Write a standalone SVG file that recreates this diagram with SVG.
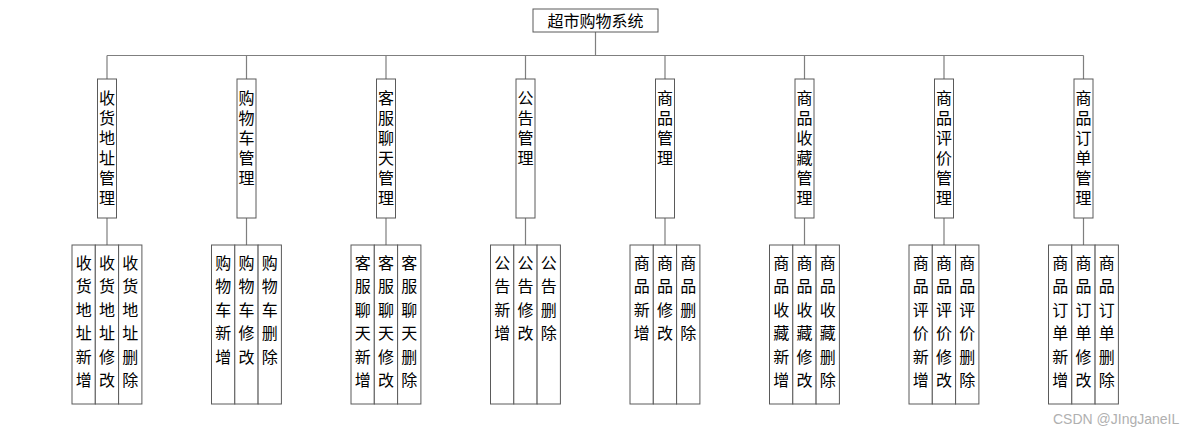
<svg xmlns="http://www.w3.org/2000/svg" width="1200" height="437" viewBox="0 0 1200 437">
<style>
.b{fill:#fff;stroke:#5a5a5a;stroke-width:1}
.t{font-family:"Noto Sans CJK SC","Liberation Sans",sans-serif;font-size:16px;fill:#000;text-anchor:middle}
.c{fill:none;stroke:#7f7f7f;stroke-width:1.2}
.w{font-family:"Liberation Sans",sans-serif;font-size:14px;fill:#b0b0b0}
</style>
<rect width="1200" height="437" fill="#fff"/>
<g id="connectors" class="c">
<path d="M595.5 32V55.5M107 55.5H1083.5"/>
<path d="M107 55.5V79M246.5 55.5V79M386 55.5V79M525.5 55.5V79M665 55.5V79M804.5 55.5V79M944 55.5V79M1083.5 55.5V79"/>
<path d="M107 218V245M246.5 218V245M386 218V245M525.5 218V245M665 218V245M804.5 218V245M944 218V245M1083.5 218V245"/>
</g>
<g id="root"><rect class="b" x="533" y="9" width="125" height="23"/><text class="t" x="595.5" y="27">超市购物系统</text></g>

<g id="n1"><rect class="b" x="97.5" y="79" width="19" height="139"/><text class="t" x="107" y="104"><tspan x="107">收</tspan><tspan x="107" dy="20">货</tspan><tspan x="107" dy="20">地</tspan><tspan x="107" dy="20">址</tspan><tspan x="107" dy="20">管</tspan><tspan x="107" dy="20">理</tspan></text></g>
<g id="n2"><rect class="b" x="237" y="79" width="19" height="139"/><text class="t" x="246.5" y="104"><tspan x="246.5">购</tspan><tspan x="246.5" dy="20">物</tspan><tspan x="246.5" dy="20">车</tspan><tspan x="246.5" dy="20">管</tspan><tspan x="246.5" dy="20">理</tspan></text></g>
<g id="n3"><rect class="b" x="376.5" y="79" width="19" height="139"/><text class="t" x="386" y="104"><tspan x="386">客</tspan><tspan x="386" dy="20">服</tspan><tspan x="386" dy="20">聊</tspan><tspan x="386" dy="20">天</tspan><tspan x="386" dy="20">管</tspan><tspan x="386" dy="20">理</tspan></text></g>
<g id="n4"><rect class="b" x="516" y="79" width="19" height="139"/><text class="t" x="525.5" y="104"><tspan x="525.5">公</tspan><tspan x="525.5" dy="20">告</tspan><tspan x="525.5" dy="20">管</tspan><tspan x="525.5" dy="20">理</tspan></text></g>
<g id="n5"><rect class="b" x="655.5" y="79" width="19" height="139"/><text class="t" x="665" y="104"><tspan x="665">商</tspan><tspan x="665" dy="20">品</tspan><tspan x="665" dy="20">管</tspan><tspan x="665" dy="20">理</tspan></text></g>
<g id="n6"><rect class="b" x="795" y="79" width="19" height="139"/><text class="t" x="804.5" y="104"><tspan x="804.5">商</tspan><tspan x="804.5" dy="20">品</tspan><tspan x="804.5" dy="20">收</tspan><tspan x="804.5" dy="20">藏</tspan><tspan x="804.5" dy="20">管</tspan><tspan x="804.5" dy="20">理</tspan></text></g>
<g id="n7"><rect class="b" x="934.5" y="79" width="19" height="139"/><text class="t" x="944" y="104"><tspan x="944">商</tspan><tspan x="944" dy="20">品</tspan><tspan x="944" dy="20">评</tspan><tspan x="944" dy="20">价</tspan><tspan x="944" dy="20">管</tspan><tspan x="944" dy="20">理</tspan></text></g>
<g id="n8"><rect class="b" x="1074" y="79" width="19" height="139"/><text class="t" x="1083.5" y="104"><tspan x="1083.5">商</tspan><tspan x="1083.5" dy="20">品</tspan><tspan x="1083.5" dy="20">订</tspan><tspan x="1083.5" dy="20">单</tspan><tspan x="1083.5" dy="20">管</tspan><tspan x="1083.5" dy="20">理</tspan></text></g>

<g id="c1">
<rect class="b" x="72" y="245" width="23.3" height="159"/><rect class="b" x="95.3" y="245" width="23.3" height="159"/><rect class="b" x="118.6" y="245" width="23.3" height="159"/>
<text class="t" y="269"><tspan x="83.7">收</tspan><tspan x="83.7" dy="23.4">货</tspan><tspan x="83.7" dy="23.4">地</tspan><tspan x="83.7" dy="23.4">址</tspan><tspan x="83.7" dy="23.4">新</tspan><tspan x="83.7" dy="23.4">增</tspan></text>
<text class="t" y="269"><tspan x="107">收</tspan><tspan x="107" dy="23.4">货</tspan><tspan x="107" dy="23.4">地</tspan><tspan x="107" dy="23.4">址</tspan><tspan x="107" dy="23.4">修</tspan><tspan x="107" dy="23.4">改</tspan></text>
<text class="t" y="269"><tspan x="130.3">收</tspan><tspan x="130.3" dy="23.4">货</tspan><tspan x="130.3" dy="23.4">地</tspan><tspan x="130.3" dy="23.4">址</tspan><tspan x="130.3" dy="23.4">删</tspan><tspan x="130.3" dy="23.4">除</tspan></text>
</g>
<g id="c2">
<rect class="b" x="211.5" y="245" width="23.3" height="159"/><rect class="b" x="234.8" y="245" width="23.3" height="159"/><rect class="b" x="258.1" y="245" width="23.3" height="159"/>
<text class="t" y="269"><tspan x="223.2">购</tspan><tspan x="223.2" dy="23.4">物</tspan><tspan x="223.2" dy="23.4">车</tspan><tspan x="223.2" dy="23.4">新</tspan><tspan x="223.2" dy="23.4">增</tspan></text>
<text class="t" y="269"><tspan x="246.5">购</tspan><tspan x="246.5" dy="23.4">物</tspan><tspan x="246.5" dy="23.4">车</tspan><tspan x="246.5" dy="23.4">修</tspan><tspan x="246.5" dy="23.4">改</tspan></text>
<text class="t" y="269"><tspan x="269.8">购</tspan><tspan x="269.8" dy="23.4">物</tspan><tspan x="269.8" dy="23.4">车</tspan><tspan x="269.8" dy="23.4">删</tspan><tspan x="269.8" dy="23.4">除</tspan></text>
</g>
<g id="c3">
<rect class="b" x="351" y="245" width="23.3" height="159"/><rect class="b" x="374.3" y="245" width="23.3" height="159"/><rect class="b" x="397.6" y="245" width="23.3" height="159"/>
<text class="t" y="269"><tspan x="362.7">客</tspan><tspan x="362.7" dy="23.4">服</tspan><tspan x="362.7" dy="23.4">聊</tspan><tspan x="362.7" dy="23.4">天</tspan><tspan x="362.7" dy="23.4">新</tspan><tspan x="362.7" dy="23.4">增</tspan></text>
<text class="t" y="269"><tspan x="386">客</tspan><tspan x="386" dy="23.4">服</tspan><tspan x="386" dy="23.4">聊</tspan><tspan x="386" dy="23.4">天</tspan><tspan x="386" dy="23.4">修</tspan><tspan x="386" dy="23.4">改</tspan></text>
<text class="t" y="269"><tspan x="409.3">客</tspan><tspan x="409.3" dy="23.4">服</tspan><tspan x="409.3" dy="23.4">聊</tspan><tspan x="409.3" dy="23.4">天</tspan><tspan x="409.3" dy="23.4">删</tspan><tspan x="409.3" dy="23.4">除</tspan></text>
</g>
<g id="c4">
<rect class="b" x="490.5" y="245" width="23.3" height="159"/><rect class="b" x="513.8" y="245" width="23.3" height="159"/><rect class="b" x="537.1" y="245" width="23.3" height="159"/>
<text class="t" y="269"><tspan x="502.2">公</tspan><tspan x="502.2" dy="23.4">告</tspan><tspan x="502.2" dy="23.4">新</tspan><tspan x="502.2" dy="23.4">增</tspan></text>
<text class="t" y="269"><tspan x="525.5">公</tspan><tspan x="525.5" dy="23.4">告</tspan><tspan x="525.5" dy="23.4">修</tspan><tspan x="525.5" dy="23.4">改</tspan></text>
<text class="t" y="269"><tspan x="548.8">公</tspan><tspan x="548.8" dy="23.4">告</tspan><tspan x="548.8" dy="23.4">删</tspan><tspan x="548.8" dy="23.4">除</tspan></text>
</g>
<g id="c5">
<rect class="b" x="630" y="245" width="23.3" height="159"/><rect class="b" x="653.3" y="245" width="23.3" height="159"/><rect class="b" x="676.6" y="245" width="23.3" height="159"/>
<text class="t" y="269"><tspan x="641.7">商</tspan><tspan x="641.7" dy="23.4">品</tspan><tspan x="641.7" dy="23.4">新</tspan><tspan x="641.7" dy="23.4">增</tspan></text>
<text class="t" y="269"><tspan x="665">商</tspan><tspan x="665" dy="23.4">品</tspan><tspan x="665" dy="23.4">修</tspan><tspan x="665" dy="23.4">改</tspan></text>
<text class="t" y="269"><tspan x="688.3">商</tspan><tspan x="688.3" dy="23.4">品</tspan><tspan x="688.3" dy="23.4">删</tspan><tspan x="688.3" dy="23.4">除</tspan></text>
</g>
<g id="c6">
<rect class="b" x="769.5" y="245" width="23.3" height="159"/><rect class="b" x="792.8" y="245" width="23.3" height="159"/><rect class="b" x="816.1" y="245" width="23.3" height="159"/>
<text class="t" y="269"><tspan x="781.2">商</tspan><tspan x="781.2" dy="23.4">品</tspan><tspan x="781.2" dy="23.4">收</tspan><tspan x="781.2" dy="23.4">藏</tspan><tspan x="781.2" dy="23.4">新</tspan><tspan x="781.2" dy="23.4">增</tspan></text>
<text class="t" y="269"><tspan x="804.5">商</tspan><tspan x="804.5" dy="23.4">品</tspan><tspan x="804.5" dy="23.4">收</tspan><tspan x="804.5" dy="23.4">藏</tspan><tspan x="804.5" dy="23.4">修</tspan><tspan x="804.5" dy="23.4">改</tspan></text>
<text class="t" y="269"><tspan x="827.8">商</tspan><tspan x="827.8" dy="23.4">品</tspan><tspan x="827.8" dy="23.4">收</tspan><tspan x="827.8" dy="23.4">藏</tspan><tspan x="827.8" dy="23.4">删</tspan><tspan x="827.8" dy="23.4">除</tspan></text>
</g>
<g id="c7">
<rect class="b" x="909" y="245" width="23.3" height="159"/><rect class="b" x="932.3" y="245" width="23.3" height="159"/><rect class="b" x="955.6" y="245" width="23.3" height="159"/>
<text class="t" y="269"><tspan x="920.7">商</tspan><tspan x="920.7" dy="23.4">品</tspan><tspan x="920.7" dy="23.4">评</tspan><tspan x="920.7" dy="23.4">价</tspan><tspan x="920.7" dy="23.4">新</tspan><tspan x="920.7" dy="23.4">增</tspan></text>
<text class="t" y="269"><tspan x="944">商</tspan><tspan x="944" dy="23.4">品</tspan><tspan x="944" dy="23.4">评</tspan><tspan x="944" dy="23.4">价</tspan><tspan x="944" dy="23.4">修</tspan><tspan x="944" dy="23.4">改</tspan></text>
<text class="t" y="269"><tspan x="967.3">商</tspan><tspan x="967.3" dy="23.4">品</tspan><tspan x="967.3" dy="23.4">评</tspan><tspan x="967.3" dy="23.4">价</tspan><tspan x="967.3" dy="23.4">删</tspan><tspan x="967.3" dy="23.4">除</tspan></text>
</g>
<g id="c8">
<rect class="b" x="1048.5" y="245" width="23.3" height="159"/><rect class="b" x="1071.8" y="245" width="23.3" height="159"/><rect class="b" x="1095.1" y="245" width="23.3" height="159"/>
<text class="t" y="269"><tspan x="1060.2">商</tspan><tspan x="1060.2" dy="23.4">品</tspan><tspan x="1060.2" dy="23.4">订</tspan><tspan x="1060.2" dy="23.4">单</tspan><tspan x="1060.2" dy="23.4">新</tspan><tspan x="1060.2" dy="23.4">增</tspan></text>
<text class="t" y="269"><tspan x="1083.5">商</tspan><tspan x="1083.5" dy="23.4">品</tspan><tspan x="1083.5" dy="23.4">订</tspan><tspan x="1083.5" dy="23.4">单</tspan><tspan x="1083.5" dy="23.4">修</tspan><tspan x="1083.5" dy="23.4">改</tspan></text>
<text class="t" y="269"><tspan x="1106.8">商</tspan><tspan x="1106.8" dy="23.4">品</tspan><tspan x="1106.8" dy="23.4">订</tspan><tspan x="1106.8" dy="23.4">单</tspan><tspan x="1106.8" dy="23.4">删</tspan><tspan x="1106.8" dy="23.4">除</tspan></text>
</g>
<text class="w" x="1053" y="424">CSDN @JIngJaneIL</text>
</svg>
